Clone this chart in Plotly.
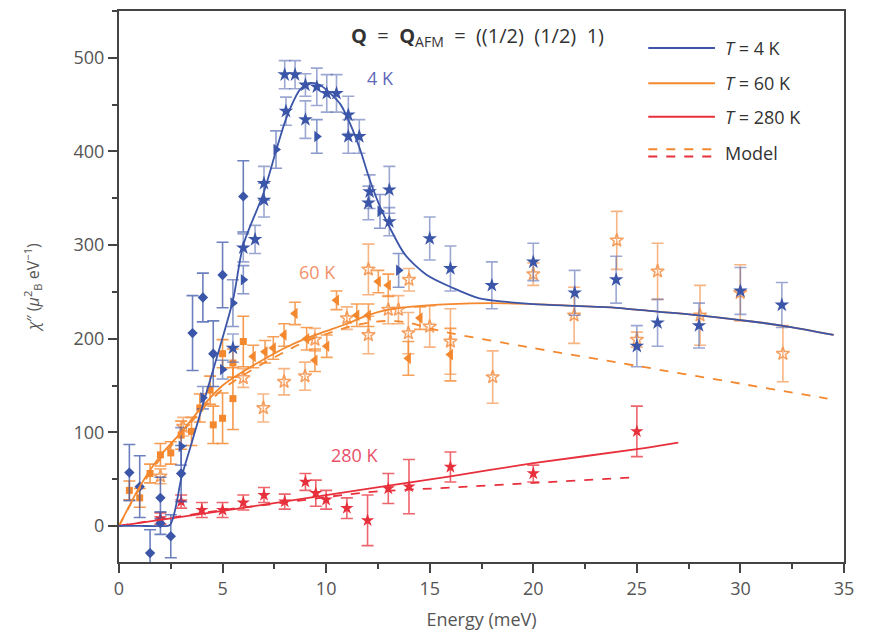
import plotly.graph_objects as go

# ---------------- data ----------------
# 4 K (blue)
b_dia_E   = [0.5, 1.0, 1.5, 2.0, 2.0, 2.5, 3.0, 3.55, 4.05, 4.55, 5.0, 6.0]
b_dia_chi = [57, 42, -29, 30, 3, -11, 56, 206, 244, 184, 268, 352]
b_dia_err = [30, 33, 25, 22, 12, 23, 30, 40, 26, 35, 35, 38]

b_tri_E   = [3.0, 4.05, 5.0, 5.5, 6.0, 7.58, 9.55, 12.6, 13.5]
b_tri_chi = [85, 137, 167, 238, 263, 402, 416, 336, 273]
b_tri_err = [20, 12, 10, 25, 15, 20, 18, 18, 18]

b_star_E   = [5.5, 6.0, 6.57, 7.0, 7.0, 8.06, 8.0, 8.5, 9.0, 9.0, 9.55, 10.03, 10.5, 11.07, 11.07, 11.6, 12.1, 12.04,
              13.05, 13.05, 15.0, 16.0, 18.0, 20.0, 22.0, 24.0, 25.0, 26.0, 28.0, 30.0, 32.0]
b_star_chi = [190, 297, 306, 366, 348, 443, 482, 482, 471, 434, 469, 462, 462, 439, 416, 416, 357, 345,
              359, 325, 307, 275, 257, 282, 249, 263, 192, 217, 214, 251, 236]
b_star_err = [15, 15, 15, 18, 18, 15, 15, 15, 12, 20, 20, 20, 20, 20, 18, 18, 18, 18,
              25, 15, 23, 24, 25, 20, 24, 25, 22, 25, 24, 25, 24]

# 60 K (orange)
o_sq_E   = [0.5, 1.0, 1.5, 2.0, 2.5, 3.0, 3.5, 3.9, 4.4, 4.55, 5.0, 5.0, 5.5, 5.5, 6.0]
o_sq_chi = [38, 30, 56, 76, 78, 97, 101, 126, 145, 108, 115, 184, 136, 174, 197]
o_sq_err = [10, 10, 10, 12, 12, 15, 15, 15, 15, 20, 27, 15, 33, 15, 27]

o_star_E   = [2.0, 3.1, 6.0, 6.97, 7.97, 8.98, 9.46, 11.0, 12.04, 12.04, 13.0, 13.49, 14.0, 13.97, 15.0, 16.0,
              18.04, 20.0, 21.97, 24.03, 25.0, 26.0, 28.05, 29.99, 32.05]
o_star_chi = [53, 106, 158, 126, 154, 160, 199, 222, 204, 274, 231, 231, 263, 206, 213, 197,
              159, 269, 225, 305, 199, 272, 225, 249, 184]
o_star_err = [8, 10, 10, 15, 14, 15, 12, 12, 20, 27, 15, 15, 12, 22, 22, 35,
              28, 12, 30, 31, 8, 30, 32, 30, 30]

o_tri_E   = [6.48, 7.05, 7.45, 7.97, 8.5, 9.06, 9.46, 10.03, 10.5, 11.48, 12.04, 12.52, 13.0, 13.97, 14.53, 16.0]
o_tri_chi = [181, 186, 190, 204, 227, 200, 177, 192, 241, 225, 225, 261, 257, 179, 222, 183]
o_tri_err = [12, 12, 12, 12, 12, 12, 12, 12, 10, 12, 12, 12, 12, 18, 12, 28]

# 280 K (red)
r_E   = [2.0, 3.0, 4.0, 5.0, 6.0, 7.0, 8.0, 9.0, 9.5, 10.0, 11.0, 12.0, 13.0, 14.0, 16.0, 20.0, 25.0]
r_chi = [8, 26, 17, 17, 25, 33, 26, 47, 35, 28, 19, 6, 40, 42, 63, 56, 101]
r_err = [6, 7, 8, 8, 8, 8, 8, 9, 14, 10, 11, 27, 16, 29, 16, 9, 27]

# fitted / model curves
fit4_E   = [0, 1.0, 2.0, 2.46, 3.03, 3.5, 4.07, 4.55, 5.5, 6.0, 6.97, 7.6, 8.1, 8.74, 9.2, 9.7, 10.2, 10.7,
            11.15, 11.64, 12.1, 12.6, 13.09, 13.8, 14.86, 16.14, 17.4, 18.0, 20.0, 22.0, 24.0, 26.0, 28.0, 32.0, 34.5]
fit4_chi = [0, 0, 0, 1, 53, 88, 131, 167, 241, 300, 355, 402, 437, 466, 473, 471, 462, 450,
            430, 402, 370, 341, 318, 290, 268, 254, 243, 241, 237, 235, 233, 229, 225, 214, 204]

fit60_E   = [0, 1, 2, 3, 4, 5, 6, 7, 8, 9, 10, 11, 12, 13, 14, 16, 18, 20, 22, 24, 26, 28, 32, 34.5]
fit60_chi = [0, 42, 75, 100, 127, 150, 165, 178, 190, 200, 208, 216, 225, 231, 234, 237, 238, 237, 235, 233, 229, 225, 214, 204]

mod60_E   = [0, 1, 2, 3, 4, 5, 6, 7, 8, 9, 10, 11, 12, 13, 14, 15, 16, 20, 25, 30, 34.2]
mod60_chi = [0, 40, 72, 98, 124, 146, 161, 174, 186, 197, 205, 212, 217, 219, 217, 211, 206, 190, 171, 152, 136]

fit280_E   = [0, 5, 10, 16, 20, 25, 27]
fit280_chi = [0, 16, 33, 53, 67, 82, 89]

mod280_E   = [0, 2, 5, 8, 12, 16, 20, 25]
mod280_chi = [0, 7, 17, 25, 36, 41, 46, 52]

BLUE = "#3b55a8"
ORANGE = "#f4882f"
RED = "#e8303c"

fig = go.Figure()

def pts(x, y, e, color, ecolor, symbol, size, lw=0, lcolor=None):
    fig.add_trace(go.Scatter(
        x=x, y=y, mode="markers",
        error_y=dict(type="data", array=e, color=ecolor, thickness=1.6, width=6),
        marker=dict(color=color, symbol=symbol, size=size,
                    line=dict(color=lcolor or color, width=lw)),
        showlegend=False, hoverinfo="skip"))

def curve(x, y, color, dash="solid", w=1.8):
    fig.add_trace(go.Scatter(x=x, y=y, mode="lines",
                             line=dict(color=color, width=w, dash=dash, shape="spline", smoothing=0.8),
                             showlegend=False, hoverinfo="skip"))

# red
pts(r_E, r_chi, r_err, RED, "rgba(232,48,60,0.75)", "star", 10)
# orange
pts(o_sq_E, o_sq_chi, o_sq_err, ORANGE, "rgba(244,136,47,0.85)", "square", 7)
pts(o_star_E, o_star_chi, o_star_err, "rgba(244,150,80,0.9)", "rgba(244,150,80,0.7)", "star-open", 10, 1.5)
pts(o_tri_E, o_tri_chi, o_tri_err, ORANGE, "rgba(244,136,47,0.8)", "triangle-left", 10)
# blue
pts(b_dia_E, b_dia_chi, b_dia_err, BLUE, "rgba(59,85,168,0.75)", "diamond", 8)
pts(b_tri_E, b_tri_chi, b_tri_err, BLUE, "rgba(59,85,168,0.6)", "triangle-right", 10)
pts(b_star_E, b_star_chi, b_star_err, BLUE, "rgba(90,110,180,0.6)", "star", 11)

# curves
curve(mod280_E, mod280_chi, RED, "dash")
curve(fit280_E, fit280_chi, RED)
curve(mod60_E, mod60_chi, ORANGE, "dash")
curve(fit60_E, fit60_chi, ORANGE)
curve(fit4_E, fit4_chi, BLUE)

FONT = "Open Sans"
TXT = "#555555"

fig.update_layout(
    width=870, height=633,
    margin=dict(l=119, r=26, t=11, b=71),
    paper_bgcolor="white", plot_bgcolor="white",
    font=dict(family=FONT, size=17, color=TXT),
    xaxis=dict(range=[0, 35], tickvals=[0, 5, 10, 15, 20, 25, 30, 35], automargin=False,
               showgrid=False, zeroline=False, showline=True, linecolor="#444", linewidth=2,
               mirror=True, ticks="outside", ticklen=9, tickwidth=2, tickcolor="#444",
               minor=dict(ticks="outside", dtick=2.5, ticklen=5, tickwidth=2, tickcolor="#444"),
               tickfont=dict(size=18, color=TXT),
               title=dict(text="Energy (meV)", font=dict(size=18, color=TXT), standoff=15)),
    yaxis=dict(range=[-38.5, 550], tickvals=[0, 100, 200, 300, 400, 500], automargin=False,
               showgrid=False, zeroline=False, showline=True, linecolor="#444", linewidth=2,
               mirror=True, ticks="outside", ticklen=9, tickwidth=2, tickcolor="#444",
               minor=dict(ticks="outside", dtick=50, ticklen=5, tickwidth=2, tickcolor="#444"),
               tickfont=dict(size=18, color=TXT),
               title=dict(text="<i>χ</i>″ (<i>μ</i><sup>2</sup><sub>B</sub> eV<sup>−1</sup>)",
                          font=dict(size=16, color=TXT), standoff=30)),
)

ann = []
ann.append(dict(x=0.495, y=0.953, xref="paper", yref="paper", xanchor="center", yanchor="middle",
                showarrow=False,
                text="<b>Q</b>  =  <b>Q</b><sub>AFM</sub>  =  ((1/2)  (1/2)  1)",
                font=dict(size=20, color="#333")))
ann.append(dict(x=12.6, y=478, showarrow=False, text="4 K", font=dict(size=18, color="#5f67b8")))
ann.append(dict(x=9.6, y=271, showarrow=False, text="60 K", font=dict(size=18, color="#f2926a")))
ann.append(dict(x=11.4, y=76, showarrow=False, text="280 K", font=dict(size=18, color="#e8506a")))

# legend (manual)
x0, x1, xt = 0.73, 0.822, 0.833
rows = [(0.933, BLUE, "<i>T</i> = 4 K"), (0.869, ORANGE, "<i>T</i> = 60 K"), (0.808, RED, "<i>T</i> = 280 K")]
shapes = []
for yy, c, t in rows:
    shapes.append(dict(type="line", xref="paper", yref="paper", x0=x0, x1=x1, y0=yy, y1=yy,
                       line=dict(color=c, width=2)))
    ann.append(dict(x=xt, y=yy, xref="paper", yref="paper", xanchor="left", yanchor="middle",
                    showarrow=False, text=t, font=dict(size=18, color="#333")))
shapes.append(dict(type="line", xref="paper", yref="paper", x0=x0, x1=x1, y0=0.749, y1=0.749,
                   line=dict(color=ORANGE, width=2, dash="dash")))
shapes.append(dict(type="line", xref="paper", yref="paper", x0=x0, x1=x1, y0=0.736, y1=0.736,
                   line=dict(color=RED, width=2, dash="dash")))
ann.append(dict(x=xt, y=0.743, xref="paper", yref="paper", xanchor="left", yanchor="middle",
                showarrow=False, text="Model", font=dict(size=18, color="#333")))

fig.update_layout(annotations=ann, shapes=shapes)
fig.write_html("out.html")
